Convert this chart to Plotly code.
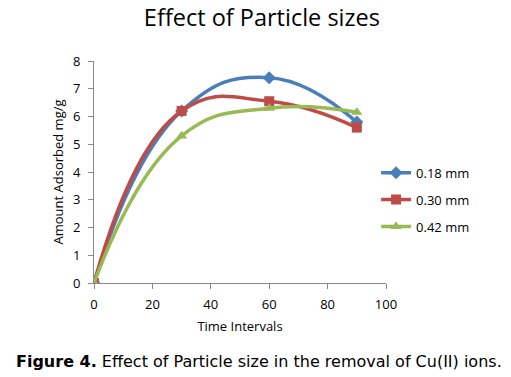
import plotly.graph_objects as go

time = [0, 30, 60, 90]
s018 = [0, 6.2, 7.4, 5.8]
s030 = [0, 6.2, 6.55, 5.6]
s042 = [0, 5.3, 6.3, 6.15]
names = ["0.18 mm", "0.30 mm", "0.42 mm"]
colors = ["#4A7EBB", "#BE4B48", "#98B954"]
symbols = ["diamond", "square", "triangle-up"]

fig = go.Figure()
for i, (y, n, c, s) in enumerate(zip([s018, s030, s042], names, colors, symbols)):
    fig.add_trace(go.Scatter(x=time, y=y, name=n, mode="lines+markers", legendgroup=str(i),
                             line=dict(color=c, width=3.5, shape="spline", smoothing=1.3),
                             marker=dict(symbol=s, size=10, color=c)))

font = "Open Sans, Liberation Sans, sans-serif"
fig.update_layout(
    width=511, height=377,
    margin=dict(l=94, r=125, t=61, b=94, autoexpand=False),
    paper_bgcolor="white", plot_bgcolor="white",
    font=dict(family=font, size=13, color="#000"),
    title=dict(text="Effect of Particle sizes", x=0.575, xref="paper", xanchor="center",
               y=0.954, yanchor="middle", font=dict(size=23.5, family=font)),
    showlegend=True,
    legend=dict(x=0.966, xanchor="left", y=0.375, yanchor="middle", font=dict(size=13),
                tracegroupgap=7, itemwidth=30, bgcolor="rgba(0,0,0,0)"),
    xaxis=dict(range=[0, 100], tickvals=[0, 20, 40, 60, 80, 100], showgrid=False, zeroline=False,
               automargin=False, ticklabelstandoff=4,
               showline=True, linecolor="#888", linewidth=1, ticks="outside", ticklen=5, tickcolor="#888",
               title=dict(text="Time Intervals", font=dict(size=13), standoff=10)),
    yaxis=dict(range=[0, 8], dtick=1, showgrid=False, zeroline=False, automargin=False,
               ticklabelstandoff=5,
               showline=True, linecolor="#888", linewidth=1, ticks="outside", ticklen=5, tickcolor="#888",
               title=dict(text="Amount Adsorbed mg/g", font=dict(size=13), standoff=6)),
)
fig.add_annotation(xref="paper", yref="paper", x=(14 - 94) / 292, y=-0.355, xanchor="left", yanchor="middle",
                   text="<b>Figure 4.</b> Effect of Particle size in the removal of Cu(II) ions.",
                   showarrow=False, font=dict(size=16, family="DejaVu Sans, sans-serif"))
fig.write_html("out.html", config={"displayModeBar": False},
               post_script="document.body.style.margin='0';document.body.style.overflow='hidden';")
